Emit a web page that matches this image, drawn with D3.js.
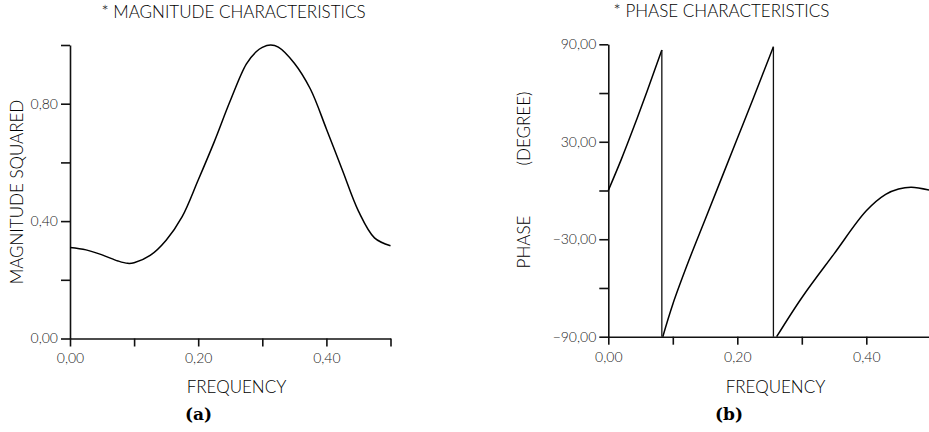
<!DOCTYPE html>
<html lang="en">
<head>
  <meta charset="UTF-8">
  <title>Magnitude and Phase Characteristics</title>
  <script src="https://d3js.org/d3.v7.min.js"></script>
  <style>
    body { margin: 0; background: #fff; }
    .label { font-family: Lato, "Noto Sans", sans-serif; font-weight: 300; fill: #000; font-size: 17px; }
    .tick text { font-family: Lato, "Noto Sans", sans-serif; font-weight: 300; fill: #222; font-size: 14px; }
    .panel { font-family: "DejaVu Serif", "Liberation Serif", serif; font-weight: bold; font-size: 17px; fill: #000; }
  </style>
</head>
<body>
  <div id="chart"></div>
  <script>
  // magnitude squared vs frequency (panel a)
  const magFreq  = [0, 0.025, 0.05, 0.075, 0.09, 0.1, 0.125, 0.15, 0.175, 0.2, 0.225, 0.25, 0.275, 0.29, 0.3, 0.313, 0.325, 0.35, 0.375, 0.4, 0.425, 0.45, 0.475, 0.5];
  const magValue = [0.31, 0.302, 0.285, 0.264, 0.256, 0.258, 0.283, 0.335, 0.415, 0.54, 0.67, 0.81, 0.935, 0.976, 0.992, 1.0, 0.993, 0.938, 0.85, 0.714, 0.573, 0.434, 0.343, 0.316];

  // phase (degree) vs frequency, three branches (panel b)
  const phaseFreq1 = [0, 0.02, 0.04, 0.06, 0.083];
  const phase1     = [0, 19, 39.5, 61, 86.5];
  const phaseFreq2 = [0.0845, 0.1, 0.125, 0.15, 0.175, 0.2, 0.225, 0.256];
  const phase2     = [-90, -70, -43, -18, 7, 32, 57, 88.5];
  const phaseFreq3 = [0.261, 0.3, 0.35, 0.4, 0.43, 0.45, 0.47, 0.5];
  const phase3     = [-90, -66, -39, -12.5, -2.4, 0.9, 2.0, 0];

  // ticks
  const freqTicks = [0, 0.1, 0.2, 0.3, 0.4, 0.5];
  const freqLabels = [0, 0.2, 0.4];
  const magTicks = [0, 0.2, 0.4, 0.6, 0.8, 1.0];
  const magLabels = [0, 0.4, 0.8];
  const phaseTicks = [-90, -60, -30, 0, 30, 60, 90];
  const phaseLabels = [-90, -30, 30, 90];

  const width = 929, height = 432;
  const svg = d3.select("#chart").append("svg")
    .attr("width", width)
    .attr("height", height);

  const fmt = d => d3.format(".2f")(d).replace(".", ",");
  const pick = labels => d => labels.some(v => Math.abs(v - d) < 1e-9) ? fmt(d) : "";

  function styleAxis(g) {
    g.select(".domain").attr("stroke", "#111").attr("stroke-width", 1.6);
    g.selectAll(".tick line").attr("stroke", "#111").attr("stroke-width", 1.6);
  }

  // ---------- panel a ----------
  const xA = d3.scaleLinear().domain([0, 0.5]).range([70, 390.5]);
  const yA = d3.scaleLinear().domain([0, 1]).range([338.5, 45]);

  svg.append("g")
    .attr("transform", `translate(0,${yA(0)})`)
    .call(d3.axisBottom(xA).tickValues(freqTicks).tickSize(8).tickSizeOuter(0).tickPadding(7).tickFormat(pick(freqLabels)))
    .call(styleAxis);

  svg.append("g")
    .attr("transform", `translate(${xA(0)},0)`)
    .call(d3.axisLeft(yA).tickValues(magTicks).tickSize(9).tickSizeOuter(0).tickPadding(3).tickFormat(pick(magLabels)))
    .call(styleAxis);

  const magLine = d3.line()
    .x((d, i) => xA(magFreq[i]))
    .y(d => yA(d))
    .curve(d3.curveCatmullRom.alpha(0.5));

  svg.append("path")
    .datum(magValue)
    .attr("d", magLine)
    .attr("fill", "none")
    .attr("stroke", "#000")
    .attr("stroke-width", 1.5);

  svg.append("text").attr("class", "label")
    .attr("x", 233.5).attr("y", 18)
    .attr("text-anchor", "middle")
    .text("* MAGNITUDE CHARACTERISTICS");

  svg.append("text").attr("class", "label")
    .attr("transform", "translate(23,192) rotate(-90)")
    .attr("text-anchor", "middle")
    .text("MAGNITUDE SQUARED");

  svg.append("text").attr("class", "label")
    .attr("x", 236.5).attr("y", 393)
    .attr("text-anchor", "middle")
    .text("FREQUENCY");

  svg.append("text").attr("class", "panel")
    .attr("x", 198.5).attr("y", 420)
    .attr("text-anchor", "middle")
    .text("(a)");

  // ---------- panel b ----------
  const xB = d3.scaleLinear().domain([0, 0.5]).range([608.3, 930.8]);
  const yB = d3.scaleLinear().domain([-90, 90]).range([336.7, 44.3]);

  svg.append("g")
    .attr("transform", `translate(0,${yB(-90)})`)
    .call(d3.axisBottom(xB).tickValues(freqTicks).tickSize(8).tickSizeOuter(0).tickPadding(7).tickFormat(pick(freqLabels)))
    .call(styleAxis);

  svg.append("g")
    .attr("transform", `translate(${xB(0)},0)`)
    .call(d3.axisLeft(yB).tickValues(phaseTicks).tickSize(9).tickSizeOuter(0).tickPadding(3).tickFormat(pick(phaseLabels)))
    .call(styleAxis);

  const branches = [[phaseFreq1, phase1], [phaseFreq2, phase2], [phaseFreq3, phase3]];

  branches.forEach(([fx, py]) => {
    const line = d3.line()
      .x((d, i) => xB(fx[i]))
      .y(d => yB(d))
      .curve(d3.curveCatmullRom.alpha(0.5));
    svg.append("path")
      .datum(py)
      .attr("d", line)
      .attr("fill", "none")
      .attr("stroke", "#000")
      .attr("stroke-width", 1.5);
  });

  // wrap-around drops at the end of the first two branches
  branches.slice(0, 2).forEach(([fx, py]) => {
    const f = fx[fx.length - 1];
    svg.append("line")
      .attr("x1", xB(f)).attr("x2", xB(f))
      .attr("y1", yB(py[py.length - 1])).attr("y2", yB(-90))
      .attr("stroke", "#111")
      .attr("stroke-width", 1.3);
  });

  svg.append("text").attr("class", "label")
    .attr("x", 721.5).attr("y", 17)
    .attr("text-anchor", "middle")
    .text("* PHASE CHARACTERISTICS");

  svg.append("text").attr("class", "label")
    .attr("transform", "translate(530,242) rotate(-90)")
    .attr("text-anchor", "middle")
    .text("PHASE");

  svg.append("text").attr("class", "label")
    .attr("transform", "translate(530,128.5) rotate(-90)")
    .attr("text-anchor", "middle")
    .text("(DEGREE)");

  svg.append("text").attr("class", "label")
    .attr("x", 775.5).attr("y", 393)
    .attr("text-anchor", "middle")
    .text("FREQUENCY");

  svg.append("text").attr("class", "panel")
    .attr("x", 729).attr("y", 420)
    .attr("text-anchor", "middle")
    .text("(b)");
  </script>
</body>
</html>
